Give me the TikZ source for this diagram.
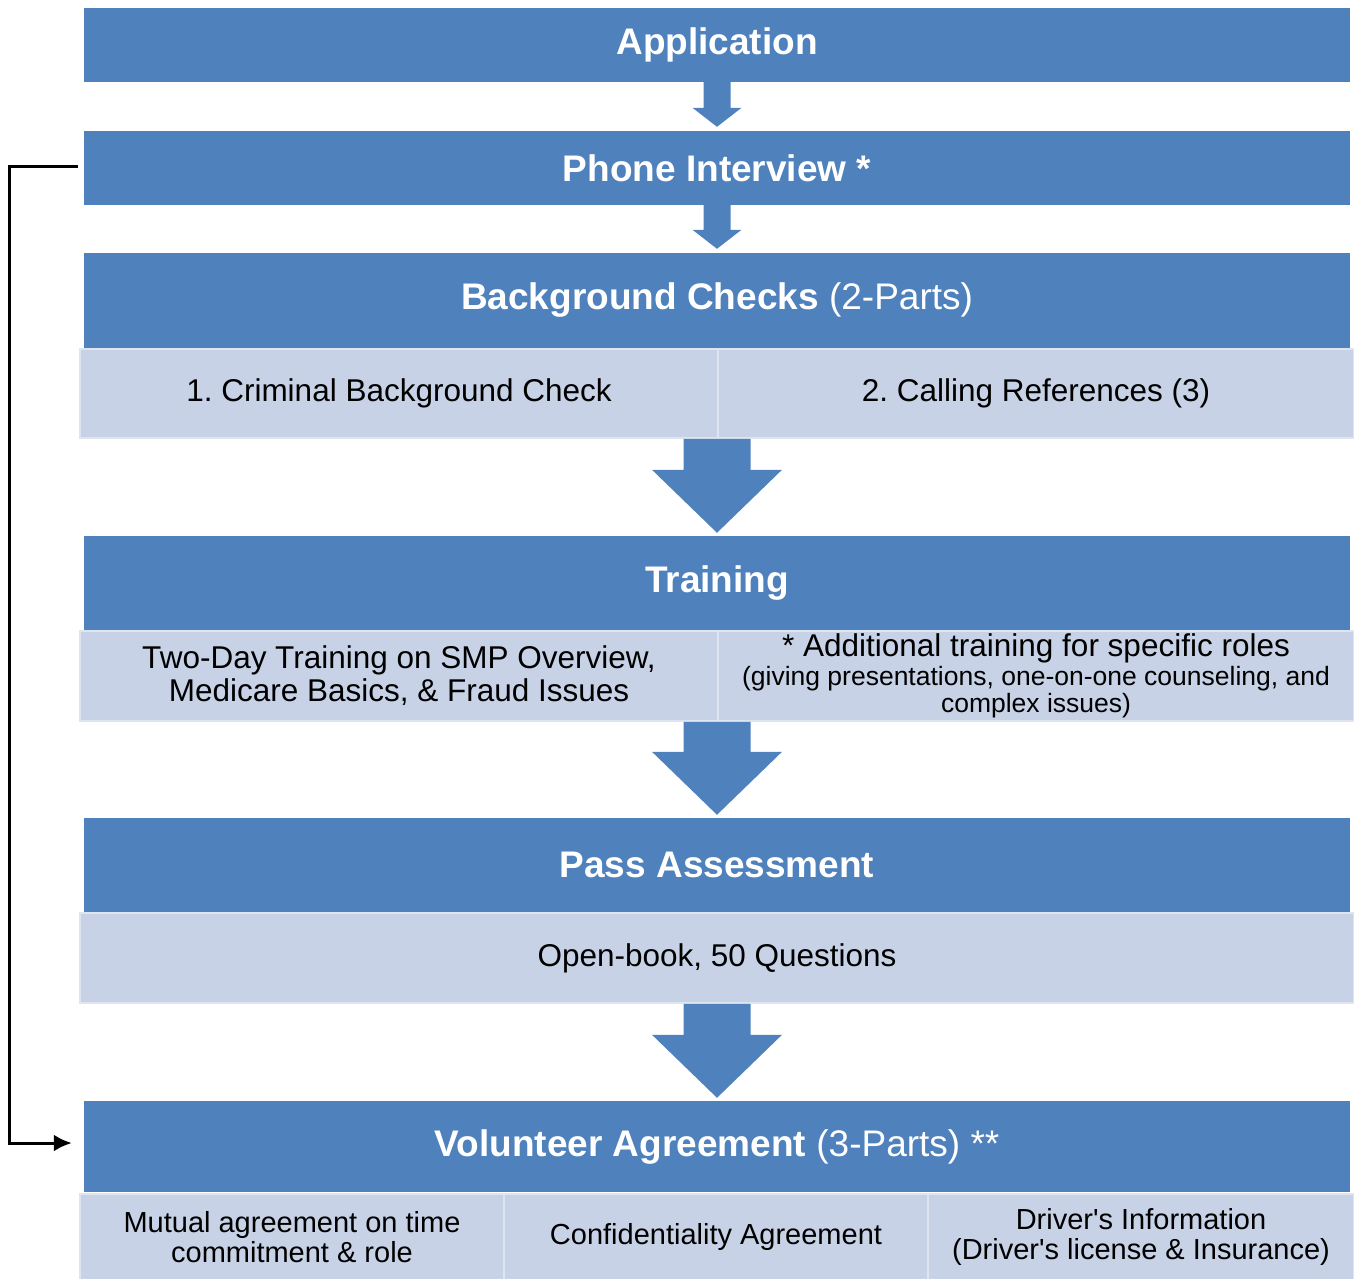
\documentclass[tikz,border=0pt]{standalone}
\usepackage{fontspec}
\setmainfont{Liberation Sans}
\usetikzlibrary{arrows.meta}
\frenchspacing
\definecolor{barblue}{RGB}{79,129,189}
\definecolor{subfill}{RGB}{199,210,230}
\definecolor{subline}{RGB}{222,228,240}
\tikzset{
  bar/.style={fill=barblue, text=white, minimum width=1266pt, inner sep=0pt,
    font=\fontsize{37}{40}\selectfont\bfseries},
  subbox/.style={fill=subfill, draw=subline, line width=1.5pt, inner sep=0pt,
    align=center, font=\fontsize{31.5}{33}\selectfont},
}
\begin{document}
\begin{tikzpicture}[x=1pt,y=-1pt]
\useasboundingbox (0,0) rectangle (1354,1278);
% steps
\node[bar, minimum height=74pt] (app) at (717,45) {Application};
\node[bar, minimum height=74pt] (phone) at (717,168) {Phone Interview *};
\node[bar, minimum height=95pt] (bg) at (717,300.5) {Background Checks {\mdseries(2-Parts)}};
\node[subbox, minimum width=638pt, minimum height=89pt] (bgl) at (399,393.5) {1. Criminal Background Check};
\node[subbox, minimum width=636pt, minimum height=89pt] (bgr) at (1036,393.5) {2. Calling References (3)};
\node[bar, minimum height=94pt] (train) at (717,583) {Training};
\node[subbox, minimum width=638pt, minimum height=90pt] (trainl) at (399,676) {Two-Day Training on SMP Overview,\\Medicare Basics, \& Fraud Issues};
\node[subbox, minimum width=636pt, minimum height=90pt] (trainr) at (1036,676)
  {* Additional training for specific roles\\[-4pt]
   {\fontsize{26.5}{27}\selectfont (giving presentations, one-on-one counseling, and}\\[-6pt]
   {\fontsize{26.5}{27}\selectfont complex issues)}};
\node[bar, minimum height=94pt] (pass) at (717,865) {Pass Assessment};
\node[subbox, minimum width=1274pt, minimum height=90pt] (passs) at (717,958) {Open-book, 50 Questions};
\node[bar, minimum height=91pt] (agree) at (717,1146.5) {Volunteer Agreement {\mdseries(3-Parts) **}};
\node[subbox, minimum width=424pt, minimum height=86pt, font=\fontsize{29}{30}\selectfont] (agreel) at (292,1237) {Mutual agreement on time\\commitment \& role};
\node[subbox, minimum width=424pt, minimum height=86pt, font=\fontsize{29}{30}\selectfont] (agreem) at (716,1237) {Confidentiality Agreement};
\node[subbox, minimum width=426pt, minimum height=86pt, font=\fontsize{29}{30}\selectfont] (agreer) at (1141,1237) {Driver\textquotesingle s Information\\(Driver\textquotesingle s license \& Insurance)};
% small arrows
\foreach \s/\t in {app/phone, phone/bg}
  \fill[barblue] ([xshift=-13.5pt]\s.south) -- ([xshift=-13.5pt,yshift=23pt]\t.north)
    -- ([xshift=-24.5pt,yshift=23pt]\t.north) -- ([yshift=4pt]\t.north)
    -- ([xshift=24.5pt,yshift=23pt]\t.north) -- ([xshift=13.5pt,yshift=23pt]\t.north)
    -- ([xshift=13.5pt]\s.south) -- cycle;
% big arrows
\foreach \s/\t in {bgl/train, trainl/pass, passs/agree}
  \fill[barblue] ([xshift=-33.5pt]\t.north |- \s.south) -- ([xshift=-33.5pt,yshift=66pt]\t.north)
    -- ([xshift=-65pt,yshift=66pt]\t.north) -- ([yshift=3pt]\t.north)
    -- ([xshift=65pt,yshift=66pt]\t.north) -- ([xshift=33.5pt,yshift=66pt]\t.north)
    -- ([xshift=33.5pt]\t.north |- \s.south) -- cycle;
% skip line
\draw[line width=3pt, -{Latex[length=18pt,width=17pt]}] ([xshift=-6pt,yshift=2pt]phone.west) -- ++(-68,0) |- ([xshift=-12pt,yshift=3.5pt]agree.west);
\end{tikzpicture}
\end{document}
